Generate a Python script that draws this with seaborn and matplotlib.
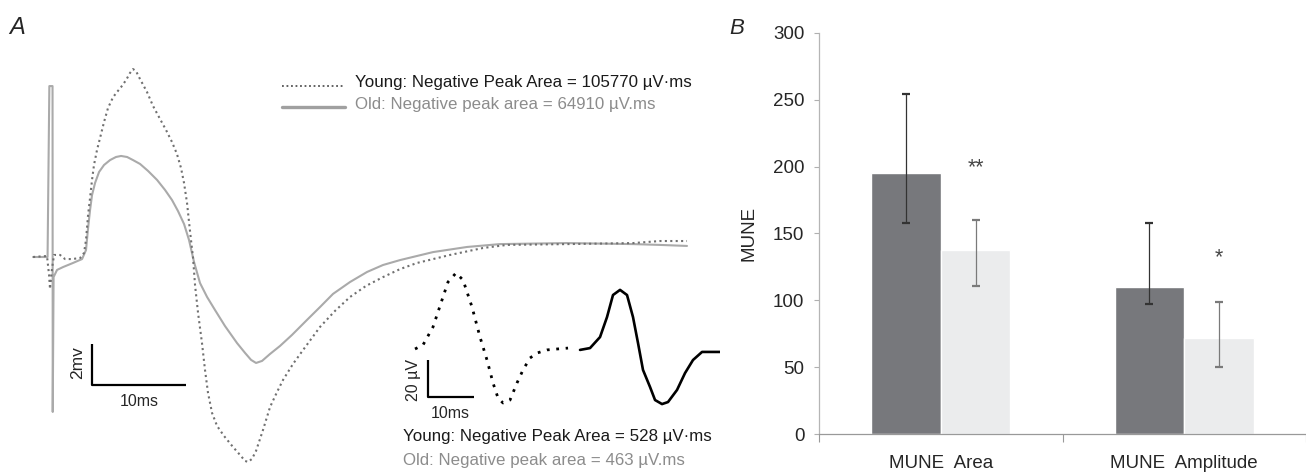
import matplotlib
matplotlib.use("Agg")
import matplotlib.pyplot as plt
import seaborn as sns
import pandas as pd
from matplotlib.lines import Line2D

# ---- Panel A: compound muscle action potentials (ms, mV)
young_t = [-1.91, -0.43, -0.21, -0.11, 0.11, 0.32, 0.96, 1.49, 2.23, 3.09, 3.51, 3.72,
           3.94, 4.15, 4.36, 4.57, 4.89, 5.21, 5.64, 6.06, 6.60, 7.02, 7.45, 7.98, 8.40,
           8.72, 9.04, 9.47, 10.21, 10.85, 11.60, 12.23, 12.87, 13.40, 13.83, 14.15,
           14.47, 14.68, 14.89, 15.11, 15.32, 15.64, 16.06, 16.38, 16.70, 17.13, 17.66,
           18.40, 19.36, 20.11, 20.64, 20.96, 21.38, 21.81, 22.55, 23.30, 24.04, 24.68,
           25.74, 26.81, 28.62, 30.21, 31.81, 33.51, 35.32, 37.13, 38.94, 42.45, 45.96,
           48.51, 54.89, 61.91, 64.79, 67.66]
young_mv = [0.00, 0.05, -0.88, -1.56, -0.54, 0.10, 0.10, -0.10, -0.10, -0.05, 0.20, 0.83,
            2.05, 2.88, 3.76, 4.49, 5.22, 5.80, 6.59, 7.27, 7.80, 8.05, 8.29, 8.63, 8.98,
            9.17, 9.07, 8.68, 8.05, 7.37, 6.73, 6.20, 5.61, 5.02, 4.34, 3.61,
            2.63, 1.71, 0.83, -0.05, -1.37, -2.73, -4.20, -5.51, -6.63, -7.61, -8.24,
            -8.73, -9.27, -9.66, -9.95, -10.00, -9.85, -9.46, -8.44, -7.32, -6.59, -6.00,
            -5.22, -4.54, -3.41, -2.63, -1.95, -1.41, -0.98, -0.59, -0.29, 0.10, 0.44,
            0.59, 0.63, 0.68, 0.78, 0.78]

old_t = [-1.91, -0.37, -0.18, 0.16, 0.18, 0.27, 0.64, 1.28, 2.34, 3.30, 3.72, 3.94,
         4.15, 4.36, 4.68, 5.11, 5.64, 6.28, 6.91, 7.45, 8.09, 8.72, 9.47, 10.32, 11.28,
         12.13, 12.87, 13.51, 14.15, 14.68, 15.21, 15.85, 16.60, 17.45, 18.51, 19.79,
         20.64, 21.28, 21.81, 22.45, 23.30, 24.36, 25.64, 27.23, 28.62, 30.00, 31.81,
         33.62, 35.32, 37.13, 40.64, 44.26, 47.77, 54.89, 61.91, 64.79, 67.66]
old_mv = [0.00, 0.00, 8.34, 8.34, -7.56, -0.98, -0.63, -0.49, -0.29, -0.10, 0.34, 1.41,
          2.29, 3.02, 3.61, 4.15, 4.49, 4.73, 4.88, 4.93, 4.88, 4.73, 4.54, 4.20, 3.76,
          3.27, 2.78, 2.24, 1.61, 0.83, -0.24, -1.27, -1.95, -2.59, -3.37, -4.20,
          -4.68, -5.02, -5.17, -5.07, -4.73, -4.34, -3.80, -3.07, -2.44, -1.80, -1.22,
          -0.73, -0.39, -0.15, 0.24, 0.49, 0.63, 0.68, 0.63, 0.59, 0.54]

# inset: single motor unit potentials (ms, µV)
mu_young_t = [0, 1.73, 3.89, 5.83, 7.13, 8.86, 10.37, 12.31, 14.04, 15.55, 16.85, 17.93,
              19.01, 20.52, 22.03, 23.33, 24.84, 26.35, 28.51, 30.67, 33.05]
mu_young_uv = [0, 2.2, 12.0, 26.7, 36.5, 41.4, 37.6, 22.9, 6.5, -6.0, -18.5, -26.7,
               -29.4, -27.8, -18.5, -11.4, -4.9, -2.2, -0.5, 0, 0.5]
mu_old_t = [35.64, 37.80, 39.96, 41.47, 42.76, 44.28, 45.79, 47.08, 48.16, 49.24, 50.76,
            51.84, 53.35, 54.64, 56.59, 58.32, 60.04, 61.99, 65.87]
mu_old_uv = [-0.5, 0.5, 6.5, 17.4, 29.4, 32.2, 29.4, 17.4, 3.3, -11.4, -20.7,
             -27.8, -30.0, -28.9, -22.3, -13.1, -6.0, -1.6, -1.6]

# ---- Panel B: MUNE
measures = ["MUNE  Area", "MUNE  Amplitude"]
groups = ["Young", "Old"]
young_mean = [195, 110]
young_hi = [254, 158]
young_lo = [158, 97]
old_mean = [138, 72]
old_hi = [160, 99]
old_lo = [111, 50]
sig_marks = ["**", "*"]
sig_y = [199, 132]

W, H = 1306, 472
sns.set_style("white")
plt.rcParams["font.family"] = ["Liberation Sans", "DejaVu Sans"]

fig = plt.figure(figsize=(W / 100, H / 100), dpi=100)


def fx(px):
    return px / W


def fy(py):
    return 1 - py / H


# ----- panel A main traces
axA = fig.add_axes([0, 0, fx(720), 1])
axA.axis("off")
axA.set_xlim(-5.43, 71.17)
axA.set_ylim(-10.49, 12.54)

sns.lineplot(data=pd.DataFrame({"t": old_t, "v": old_mv}), x="t", y="v", ax=axA,
             estimator=None, sort=False, color="#aaaaaa", lw=1.5)
sns.lineplot(data=pd.DataFrame({"t": young_t, "v": young_mv}), x="t", y="v", ax=axA,
             estimator=None, sort=False, color="#707070", lw=1.5, linestyle=(0, (1, 1.6)))

# scale bar 2 mV / 10 ms
axA.plot([4.36, 4.36, 14.36], [-4.24, -6.24, -6.24], color="black", lw=1.6,
         solid_capstyle="butt")
axA.text(2.87, -5.17, "2mv", rotation=90, ha="center", va="center", fontsize=12.5)
axA.text(9.36, -7.05, "10ms", ha="center", va="center", fontsize=11.5)

# legend keys
fig.add_artist(Line2D([fx(282), fx(345)], [fy(86), fy(86)], color="#555555", lw=1.3,
                      linestyle=(0, (1, 1.5))))
fig.add_artist(Line2D([fx(282), fx(345)], [fy(107), fy(107)], color="#a0a0a0", lw=2.4))
fig.text(fx(355), fy(83), "Young: Negative Peak Area = 105770 µV·ms", fontsize=12.2,
         color="#1a1a1a", va="center")
fig.text(fx(355), fy(105), "Old: Negative peak area = 64910 µV.ms", fontsize=12.2,
         color="#8c8c8c", va="center")

# ----- inset motor unit potentials
axI = fig.add_axes([fx(400), fy(425), fx(320), 170 / H])
axI.axis("off")
axI.set_xlim(-3.24, 65.87)
axI.set_ylim(-41.4, 51.2)
sns.lineplot(data=pd.DataFrame({"t": mu_young_t, "v": mu_young_uv}), x="t", y="v", ax=axI,
             estimator=None, sort=False, color="black", lw=2.0, linestyle=(0, (1, 2.4)))
sns.lineplot(data=pd.DataFrame({"t": mu_old_t, "v": mu_old_uv}), x="t", y="v", ax=axI,
             estimator=None, sort=False, color="black", lw=1.9)
axI.plot([2.74, 2.74, 12.74], [-6.0, -26.0, -26.0], color="black", lw=1.6,
         solid_capstyle="butt")
axI.text(-0.43, -16.9, "20 µV", rotation=90, ha="center", va="center", fontsize=11.5)
axI.text(7.56, -34.9, "10ms", ha="center", va="center", fontsize=11.5)

fig.text(fx(403), fy(437), "Young: Negative Peak Area = 528 µV·ms", fontsize=12.2,
         color="#1a1a1a", va="center")
fig.text(fx(403), fy(460), "Old: Negative peak area = 463 µV.ms", fontsize=12.2,
         color="#8c8c8c", va="center")

fig.text(fx(9), fy(28), "A", fontsize=17, fontstyle="italic", va="center")
fig.text(fx(729), fy(29), "B", fontsize=16, fontstyle="italic", va="center")

# ----- panel B bars
axB = fig.add_axes([fx(819), fy(434.3), 1 - fx(819), (434.3 - 32.7) / H])
df = pd.DataFrame({
    "measure": measures * 2,
    "group": [groups[0]] * 2 + [groups[1]] * 2,
    "value": young_mean + old_mean,
})
sns.barplot(data=df, x="measure", y="value", hue="group", hue_order=groups,
            order=measures, palette={"Young": "#77787c", "Old": "#ebeced"},
            errorbar=None, width=0.571, legend=False, ax=axB, saturation=1)

err_sets = [(young_mean, young_lo, young_hi, "#333333"),
            (old_mean, old_lo, old_hi, "#7a7a7a")]
for cont, (m, lo, hi, col) in zip(axB.containers, err_sets):
    xs = [b.get_x() + b.get_width() / 2 for b in cont]
    axB.errorbar(xs, m, yerr=[[a - b for a, b in zip(m, lo)], [b - a for a, b in zip(m, hi)]],
                 fmt="none", ecolor=col, elinewidth=0.9, capsize=3.2, capthick=1.6)
    if col != "#333333":
        for x, s, y in zip(xs, sig_marks, sig_y):
            axB.text(x, y, s, ha="center", va="center", fontsize=15.5, color="#444444")

axB.set_xlim(-0.5, 1.5)
axB.set_ylim(0, 300)
axB.set_yticks(range(0, 301, 50))
axB.set_xticks([-0.5, 0.5, 1.5])
axB.set_xticklabels([])
axB.set_xticks([0, 1], minor=True)
axB.set_xticklabels(measures, minor=True)
axB.tick_params(axis="x", which="major", length=5.5, width=0.8, color="#999999",
                direction="out", bottom=True)
axB.tick_params(axis="x", which="minor", length=0, pad=15, labelsize=13.5)
axB.tick_params(axis="y", length=3.6, width=0.8, color="#b0b0b0", direction="out",
                left=True, pad=7, labelsize=13.5)
axB.set_xlabel("")
axB.set_ylabel("MUNE", fontsize=13.5, labelpad=11)
sns.despine(ax=axB, top=True, right=True)
axB.spines["left"].set_color("#b5b5b5")
axB.spines["bottom"].set_color("#999999")
axB.spines["left"].set_linewidth(0.9)
axB.spines["bottom"].set_linewidth(0.9)

fig.savefig("out.png", dpi=100)
